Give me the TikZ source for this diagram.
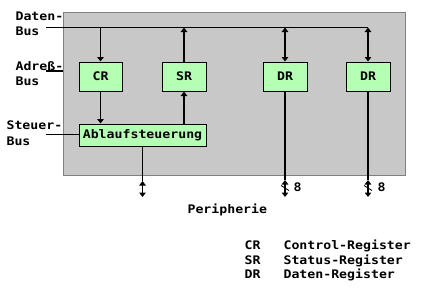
\documentclass[tikz,border=0pt]{standalone}
\usepackage{fontspec}
\setmonofont[FakeStretch=1.12]{DejaVu Sans Mono}
\usetikzlibrary{arrows.meta}
\definecolor{boxgray}{RGB}{200,200,200}
\definecolor{edgegray}{RGB}{128,128,128}
\definecolor{reggreen}{RGB}{180,255,180}
\begin{document}
\begin{tikzpicture}[x=1pt,y=-1pt,
  font=\ttfamily\bfseries\fontsize{11.8}{13}\selectfont,
  line width=1.1pt,
  tip/.tip={Triangle[width=6.5pt,length=4.5pt]},
  devbox/.style={draw=edgegray,fill=boxgray,line width=1pt,minimum width=342pt,minimum height=163pt,inner sep=0pt},
  regbox/.style={draw=black,fill=reggreen,line width=1pt,minimum width=44pt,minimum height=29pt,inner sep=0pt},
  lbl/.style={anchor=base west,inner sep=0pt}]
\useasboundingbox[fill=white] (0,0) rectangle (429,297);
\node[devbox] (dev) at (234,93.5) {};
% registers
\node[regbox,minimum width=43pt] (CR) at (100.5,76.5) {CR};
\node[regbox] (SR) at (184,76.5) {SR};
\node[regbox] (DRa) at (285,76.5) {DR};
\node[regbox] (DRb) at (368,76.5) {DR};
\node[regbox,minimum width=127pt,minimum height=22pt] (Abl) at (142.5,135) {Ablaufsteuerung};
% bus labels
\node[lbl] (l1) at (15,20) {Daten-};
\node[lbl] (l2) at (15,35.5) {Bus};
\node[lbl] (l3) at (15,70) {Adreß-};
\node[lbl] (l4) at (15,85) {Bus};
\node[lbl] (l5) at (6,129) {Steuer-};
\node[lbl] (l6) at (6,145) {Bus};
% bus lines
\coordinate (db0) at (46,27.5);
\coordinate (db1) at (DRb.north |- db0);
\draw (db0) -- (db1);
\coordinate (ab0) at (46,71);
\draw (ab0) -- (ab0 -| dev.west);
\coordinate (sb0) at (46,134.5);
\draw (sb0) -- (Abl.west |- sb0);
% connections
\draw[-tip] (CR.north |- db0) -- (CR.north);
\draw[-tip] (SR.north) -- (SR.north |- db0);
\draw[tip-tip] (DRa.north |- db0) -- (DRa.north);
\draw[tip-tip] (DRb.north |- db0) -- (DRb.north);
\draw[-tip] (CR.south) -- (CR.south |- Abl.north);
\draw[-tip] (SR.south |- Abl.north) -- (SR.south);
% periphery
\coordinate (pa1) at (Abl.south |- 0,181);
\coordinate (pa2) at (Abl.south |- 0,197);
\draw (Abl.south) -- (pa1);
\draw[tip-tip] (pa1) -- (pa2);
\coordinate (pb1) at (DRa.south |- 0,180);
\coordinate (pb2) at (DRa.south |- 0,197);
\draw (DRa.south) -- (pb1);
\draw[tip-tip] (pb1) -- (pb2);
\draw[line width=0.9pt] ([xshift=-4pt,yshift=2.5pt]pb1 |- 0,188) -- ([xshift=4pt,yshift=-2.5pt]pb1 |- 0,188);
\coordinate (pc1) at (DRb.south |- 0,180);
\coordinate (pc2) at (DRb.south |- 0,197);
\draw (DRb.south) -- (pc1);
\draw[tip-tip] (pc1) -- (pc2);
\draw[line width=0.9pt] ([xshift=-4pt,yshift=2.5pt]pc1 |- 0,188) -- ([xshift=4pt,yshift=-2.5pt]pc1 |- 0,188);
\node[lbl] (w1) at (293,191) {8};
\node[lbl] (w2) at (377,191) {8};
\node[lbl] (per) at (187,213) {Peripherie};
% legend
\node[lbl] (k1) at (244,249) {CR};
\node[lbl] (k2) at (244,264) {SR};
\node[lbl] (k3) at (244,278) {DR};
\node[lbl] (t1) at (283,249) {Control-Register};
\node[lbl] (t2) at (283,264) {Status-Register};
\node[lbl] (t3) at (283,278) {Daten-Register};
\end{tikzpicture}
\end{document}
